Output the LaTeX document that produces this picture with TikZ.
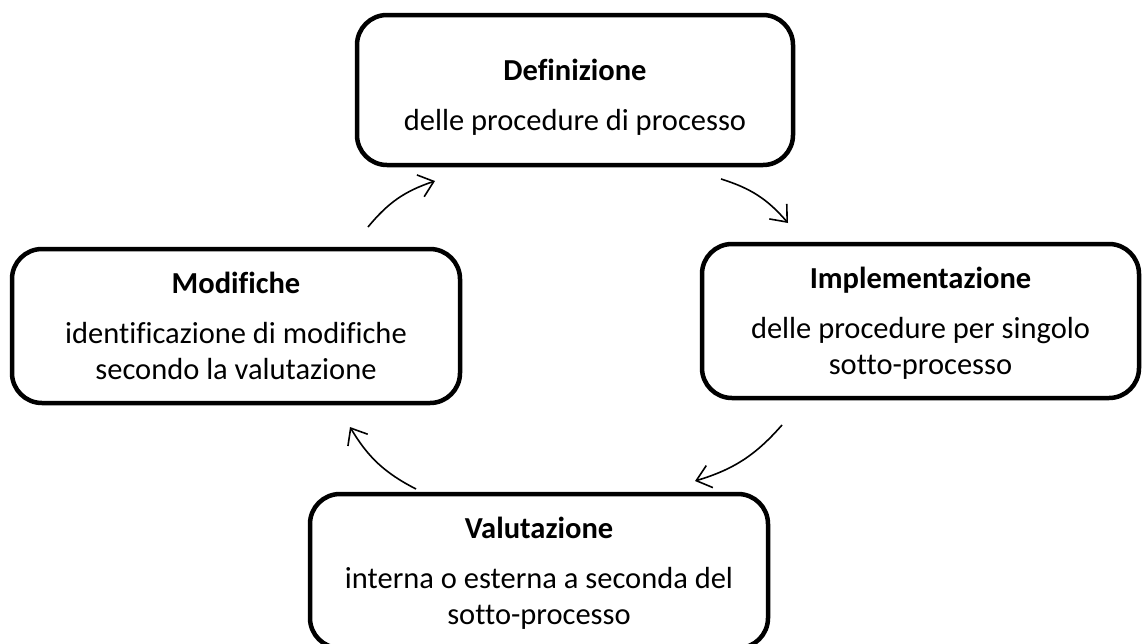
\documentclass[tikz,border=0pt]{standalone}
\usepackage{fontspec}
\setmainfont{Carlito}[Ligatures=NoCommon]
\usetikzlibrary{arrows.meta}
\tikzset{
  stage/.style={draw=black, line width=4.5pt, rounded corners=30pt, align=center,
    inner sep=0pt, font=\fontsize{30.5}{36}\selectfont},
  flow/.style={line width=1.6pt, -{Straight Barb[length=14pt,width=23pt,line width=1.6pt]}, bend left=16}
}
\begin{document}
\begin{tikzpicture}[x=1pt,y=-1pt]
\useasboundingbox (0,0) rectangle (1143,643);
\node[stage, minimum width=436pt, minimum height=150pt] (def) at (575,90)
  {\rule{0pt}{35pt}\textbf{Definizione}\\[14pt]delle procedure di processo};
\node[stage, minimum width=437pt, minimum height=154pt] (imp) at (920.5,321)
  {\rule{0pt}{25pt}\textbf{Implementazione}\\[14pt]delle procedure per singolo\\sotto-processo};
\node[stage, minimum width=448pt, minimum height=154pt] (mod) at (236,326)
  {\textbf{Modifiche}\\[14pt]identificazione di modifiche\\secondo la valutazione};
\node[stage, minimum width=458pt, minimum height=154pt] (val) at (539,571)
  {\rule{0pt}{25pt}\textbf{Valutazione}\\[14pt]interna o esterna a seconda del\\sotto-processo};
\coordinate (a1s) at (721,179); \coordinate (a1e) at (788,223);
\coordinate (a2s) at (782,425); \coordinate (a2e) at (695,481);
\coordinate (a3s) at (416,489); \coordinate (a3e) at (350,427);
\coordinate (a4s) at (368,227); \coordinate (a4e) at (435,181);
\draw[flow] (a1s) to (a1e);
\draw[flow] (a2s) to (a2e);
\draw[flow] (a3s) to (a3e);
\draw[flow] (a4s) to (a4e);
\end{tikzpicture}
\end{document}
